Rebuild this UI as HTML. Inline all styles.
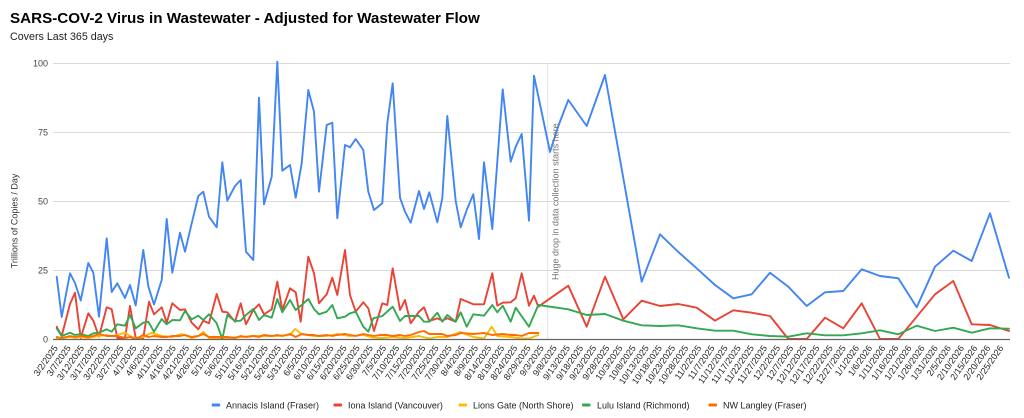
<!DOCTYPE html>
<html>
<head>
<meta charset="utf-8">
<style>
  html,body{margin:0;padding:0;background:#fff;}
  svg{display:block;font-family:"Liberation Sans",Arial,sans-serif;}
</style>
</head>
<body>
<svg width="1024" height="418" viewBox="0 0 1024 418" xmlns="http://www.w3.org/2000/svg">
  <rect width="1024" height="418" fill="#fff"/>
  <!-- Title -->
  <text x="10" y="23" font-size="15.2" font-weight="bold" fill="#000">SARS-COV-2 Virus in Wastewater - Adjusted for Wastewater Flow</text>
  <text x="10" y="40" font-size="10.7" fill="#222">Covers Last 365 days</text>

  <!-- gridlines -->
  <g stroke="#d9d9d9" stroke-width="1">
    <line x1="53" y1="63.5" x2="1010" y2="63.5"/>
    <line x1="53" y1="132.5" x2="1010" y2="132.5"/>
    <line x1="53" y1="201.5" x2="1010" y2="201.5"/>
    <line x1="53" y1="270.5" x2="1010" y2="270.5"/>
  </g>
  <!-- annotation line -->
  <line x1="547.7" y1="63" x2="547.7" y2="339" stroke="#e3e3e3" stroke-width="1"/>

  <!-- y tick labels -->
  <g font-size="9" fill="#444" text-anchor="end">
    <text x="48" y="66.5">100</text>
    <text x="48" y="135.5">75</text>
    <text x="48" y="204.5">50</text>
    <text x="48" y="273.5">25</text>
    <text x="48" y="342.5">0</text>
  </g>
  <!-- y axis title -->
  <text transform="translate(17.5,221) rotate(-90)" font-size="9" fill="#333" text-anchor="middle">Trillions of Copies / Day</text>

  <!-- series -->
  <g fill="none" stroke-width="1.9" stroke-linejoin="round" stroke-linecap="round">
    <polyline stroke="#4285f4" points="56.7,276.7 61.7,317 70,273.3 75,283 80.7,300.5 88.3,263 93.3,272.7 99,316.7 106.7,238.3 111.7,292 117.3,283.3 125,298 130,285 135.7,305.5 143.3,250 148.3,286.3 154,304.5 161.7,280 166.7,219 172.3,272.7 180,232.7 185,251.7 191.7,223.3 198.3,196 203.3,191.7 209,216.7 216.7,227.3 222.3,162.3 227.3,200.7 235,186 240.7,180 246,251.7 253.3,260 259,97.7 264,204.3 271.7,176.7 277.3,61.7 282.3,170.7 290,165 295.7,197.7 301.7,163.3 308.3,90 314,111.7 319,191.7 326.7,125 332.3,122.7 337.3,218.3 345,145 350,147.3 355.7,139 363.3,150 368.3,191.7 374,210 382.3,203.3 387.3,123.3 392.7,83.3 400,197.7 405,211.7 410.7,222.7 419,191 424,209 429.3,192.3 437.3,222.3 442.3,198.3 447.3,116 455.7,201 460.7,227.3 466.7,210 473.3,194.3 479,239 484,162.3 492.3,229 502.7,89.3 510.7,161.7 515.7,146.7 521.7,134 529,220.7 534,75.7 550,152 558.3,126 568.3,100 586.7,126 605,75 641.7,281.7 660,234.3 678.3,252 696.7,268.3 715,285 733.3,298.3 751.7,294.3 770,272.7 788.3,286.7 806.7,306 825,292.3 843.3,291 861.7,269.3 880,276 898.3,278.3 916.7,307.3 935,266.7 953.3,250.7 971.7,261 990,213.3 1009,277.7"/>
    <polyline stroke="#ea4335" points="56.7,326.7 61.7,336 70,304 75,292.7 80.7,338 88.3,313.3 93.3,320.7 99,336.7 106.7,307.3 111.7,309.3 117.3,338 125,338 130,306 135.7,338 143.3,338 149,301.7 154,314.3 161.7,307.3 166.7,322.7 172.3,303.3 180,310 185,309.3 191.7,322.7 198.3,329.3 203.3,320.7 209,323.3 216.7,294 222.3,311.7 227.3,312.3 235,321.7 240.7,303.3 246,324.3 253.3,310 259,304.3 264,314.3 271.7,309.3 277.3,281.7 282.3,310 290,288.3 295.7,292.3 300.7,321.7 308.3,256.7 314,273.3 319,303.3 326.7,294.3 332.3,277.7 337.3,295 345,250 350,295 355.7,311.7 363.3,302.3 368.3,308.3 374,331 382.3,303.3 387.3,305 392.7,268.3 400,310 405,300 410.7,323.3 419,311.7 424,307.3 429.3,321 437.3,318.3 442.3,320.7 447.3,318.3 455.7,321.7 460.7,299 473.3,304.3 484,304.3 492.3,273.3 497.3,305.7 502.7,302.7 510.7,302.3 515.7,298.3 521.7,273.3 529,305.7 534,295.7 538.3,306.7 568.3,285.7 586.7,326.7 605,276.7 623.3,319.3 641.7,300.7 660,306 678.3,304 696.7,307.7 715,320.7 733.3,310.3 751.7,312.7 770,316 788.3,339 806.7,339 825,317.7 843.3,328.3 861.7,303.3 880,339 898.3,339 916.7,316.7 935,294.3 953.3,281 971.7,324.3 990,325 1009,331"/>
    <polyline stroke="#fbbc04" points="56.7,338 61.7,338.5 70,337 75,338 80.7,337 88.3,338 93.3,337 99,336 106.7,335 111.7,336 117.3,335 125,332.7 130,336 135.7,338.5 143.3,337 151.7,332.7 161.7,336 172.3,337 181.7,334 191.7,338 198.3,336 203.3,331.7 209,338 216.7,338.5 227.3,338 240.7,337 253.3,336 264,336 277.3,336 290,335 295,329 301.7,334 314,336 326.7,336 337.3,334 350,336 363.3,335 373.3,337.7 382.3,338 392.7,337 405,338 419,336 429.3,338.5 437.3,337 447.3,337 460,332 473.3,337 484,338.5 491.7,326.7 497.3,336 510.7,337 521.7,338.5 529,338.5 538.3,335"/>
    <polyline stroke="#34a853" points="56.7,328.3 61.7,336 70,332.7 75,335 80.7,334 88.3,336 93.3,333.3 99,332.7 106.7,329.3 111.7,331.7 117.3,324.3 125,325.7 130,315 135.7,328.3 143.3,322.7 148.3,321.7 154,331.7 161.7,319 166.7,324.3 172.3,320 180,320.3 185,311 191.7,319.3 198.3,315.7 203.3,320 209,314.3 216.7,323.3 222.3,339 227.3,315 235,321 240.7,320.7 246,315 253.3,309 259,320 264,315 271.7,317.7 277.3,299 282.3,312.3 290,300 295.7,310 301.7,305 308.3,299 314,309 319,314.3 326.7,311.7 332.3,305 337.3,318.3 345,316.7 350,313.3 355.7,311.7 363.3,326.7 368.3,331.7 373.3,318.3 382.3,316 392.7,306.7 400,321 405,316 410.7,316 419,316 424,321.7 429.3,321.7 437.3,312.7 442.3,321.7 447.3,315 455.7,321.7 460.7,312.3 466.7,326.7 473.3,314.3 484,315.7 492.3,305 497.3,312.3 502.7,305.7 510.7,321.7 515.7,307.7 529,326.7 538.3,305 568.3,309.3 586.7,315 605,314 623.3,320.7 641.7,325.3 660,326 678.3,325.3 696.7,328.3 715,330.7 733.3,330.7 751.7,334.3 770,336 788.3,336.7 806.7,333.3 825,335.3 843.3,335.3 861.7,333.3 880,330.3 898.3,334.3 916.7,325.7 935,331 953.3,327.7 971.7,332.7 990,328.3 1009,328.7"/>
    <polyline stroke="#ff6d01" points="56.7,337 61.7,338 70,336 75,337 80.7,336 88.3,337 93.3,336 99,334 106.7,336 111.7,336 117.3,336 125,338 130,337 135.7,339 143.3,335 148.3,337 154,336 161.7,337 166.7,337 172.3,336 180,336 185,335 191.7,337 198.3,336 203.3,334 209,337 216.7,337 220,337 227.3,337 235,338 240.7,336 246,337 253.3,336 259,337 264,335 271.7,336 277.3,335 282.3,336 290,334 295.7,337 301.7,334 308.3,335 314,335 319,336 326.7,335 332.3,336 337.3,335 345,334 350,335 355.7,336 363.3,334 368.3,335 374,336 380,335 387.3,335 392.7,336 400,335 405,336 410.7,335 419,332 424,331 429.3,334 437.3,334 442.3,334 447.3,336 455.7,335 460.7,333 473.3,334 484,333 492.3,335 502.7,334 510.7,335 515.7,335 521.7,336 529,333 534,333 538.3,333"/>
  </g>

  <!-- baseline -->
  <line x1="53" y1="339.5" x2="1010" y2="339.5" stroke="#666" stroke-width="1.2"/>

  <!-- annotation text -->
  <text transform="translate(558.5,280) rotate(-90)" font-size="9" fill="#757575">Huge drop in data collection starts here</text>

  <!-- x labels -->
  <g font-size="9" fill="#222" text-anchor="end">
    <text transform="translate(58.2,348) rotate(-55)">3/2/2025</text>
    <text transform="translate(71.3,348) rotate(-55)">3/7/2025</text>
    <text transform="translate(84.5,348) rotate(-55)">3/12/2025</text>
    <text transform="translate(97.6,348) rotate(-55)">3/17/2025</text>
    <text transform="translate(110.7,348) rotate(-55)">3/22/2025</text>
    <text transform="translate(123.9,348) rotate(-55)">3/27/2025</text>
    <text transform="translate(137.0,348) rotate(-55)">4/1/2025</text>
    <text transform="translate(150.1,348) rotate(-55)">4/6/2025</text>
    <text transform="translate(163.3,348) rotate(-55)">4/11/2025</text>
    <text transform="translate(176.4,348) rotate(-55)">4/16/2025</text>
    <text transform="translate(189.6,348) rotate(-55)">4/21/2025</text>
    <text transform="translate(202.7,348) rotate(-55)">4/26/2025</text>
    <text transform="translate(215.8,348) rotate(-55)">5/1/2025</text>
    <text transform="translate(229.0,348) rotate(-55)">5/6/2025</text>
    <text transform="translate(242.1,348) rotate(-55)">5/11/2025</text>
    <text transform="translate(255.2,348) rotate(-55)">5/16/2025</text>
    <text transform="translate(268.4,348) rotate(-55)">5/21/2025</text>
    <text transform="translate(281.5,348) rotate(-55)">5/26/2025</text>
    <text transform="translate(294.6,348) rotate(-55)">5/31/2025</text>
    <text transform="translate(307.8,348) rotate(-55)">6/5/2025</text>
    <text transform="translate(320.9,348) rotate(-55)">6/10/2025</text>
    <text transform="translate(334.0,348) rotate(-55)">6/15/2025</text>
    <text transform="translate(347.2,348) rotate(-55)">6/20/2025</text>
    <text transform="translate(360.3,348) rotate(-55)">6/25/2025</text>
    <text transform="translate(373.4,348) rotate(-55)">6/30/2025</text>
    <text transform="translate(386.6,348) rotate(-55)">7/5/2025</text>
    <text transform="translate(399.7,348) rotate(-55)">7/10/2025</text>
    <text transform="translate(412.9,348) rotate(-55)">7/15/2025</text>
    <text transform="translate(426.0,348) rotate(-55)">7/20/2025</text>
    <text transform="translate(439.1,348) rotate(-55)">7/25/2025</text>
    <text transform="translate(452.3,348) rotate(-55)">7/30/2025</text>
    <text transform="translate(465.4,348) rotate(-55)">8/4/2025</text>
    <text transform="translate(478.5,348) rotate(-55)">8/9/2025</text>
    <text transform="translate(491.7,348) rotate(-55)">8/14/2025</text>
    <text transform="translate(504.8,348) rotate(-55)">8/19/2025</text>
    <text transform="translate(517.9,348) rotate(-55)">8/24/2025</text>
    <text transform="translate(531.1,348) rotate(-55)">8/29/2025</text>
    <text transform="translate(544.2,348) rotate(-55)">9/3/2025</text>
    <text transform="translate(557.3,348) rotate(-55)">9/8/2025</text>
    <text transform="translate(570.5,348) rotate(-55)">9/13/2025</text>
    <text transform="translate(583.6,348) rotate(-55)">9/18/2025</text>
    <text transform="translate(596.7,348) rotate(-55)">9/23/2025</text>
    <text transform="translate(609.9,348) rotate(-55)">9/28/2025</text>
    <text transform="translate(623.0,348) rotate(-55)">10/3/2025</text>
    <text transform="translate(636.2,348) rotate(-55)">10/8/2025</text>
    <text transform="translate(649.3,348) rotate(-55)">10/13/2025</text>
    <text transform="translate(662.4,348) rotate(-55)">10/18/2025</text>
    <text transform="translate(675.6,348) rotate(-55)">10/23/2025</text>
    <text transform="translate(688.7,348) rotate(-55)">10/28/2025</text>
    <text transform="translate(701.8,348) rotate(-55)">11/2/2025</text>
    <text transform="translate(715.0,348) rotate(-55)">11/7/2025</text>
    <text transform="translate(728.1,348) rotate(-55)">11/12/2025</text>
    <text transform="translate(741.2,348) rotate(-55)">11/17/2025</text>
    <text transform="translate(754.4,348) rotate(-55)">11/22/2025</text>
    <text transform="translate(767.5,348) rotate(-55)">11/27/2025</text>
    <text transform="translate(780.6,348) rotate(-55)">12/2/2025</text>
    <text transform="translate(793.8,348) rotate(-55)">12/7/2025</text>
    <text transform="translate(806.9,348) rotate(-55)">12/12/2025</text>
    <text transform="translate(820.0,348) rotate(-55)">12/17/2025</text>
    <text transform="translate(833.2,348) rotate(-55)">12/22/2025</text>
    <text transform="translate(846.3,348) rotate(-55)">12/27/2025</text>
    <text transform="translate(859.5,348) rotate(-55)">1/1/2026</text>
    <text transform="translate(872.6,348) rotate(-55)">1/6/2026</text>
    <text transform="translate(885.7,348) rotate(-55)">1/11/2026</text>
    <text transform="translate(898.9,348) rotate(-55)">1/16/2026</text>
    <text transform="translate(912.0,348) rotate(-55)">1/21/2026</text>
    <text transform="translate(925.1,348) rotate(-55)">1/26/2026</text>
    <text transform="translate(938.3,348) rotate(-55)">1/31/2026</text>
    <text transform="translate(951.4,348) rotate(-55)">2/5/2026</text>
    <text transform="translate(964.5,348) rotate(-55)">2/10/2026</text>
    <text transform="translate(977.7,348) rotate(-55)">2/15/2026</text>
    <text transform="translate(990.8,348) rotate(-55)">2/20/2026</text>
    <text transform="translate(1003.9,348) rotate(-55)">2/25/2026</text>
  </g>

  <!-- legend -->
  <g font-size="9" fill="#222">
    <rect x="211.7" y="403.5" width="8.5" height="3" rx="1" fill="#4285f4"/>
    <text x="226" y="408.5">Annacis Island (Fraser)</text>
    <rect x="333.5" y="403.5" width="8.5" height="3" rx="1" fill="#ea4335"/>
    <text x="348" y="408.5">Iona Island (Vancouver)</text>
    <rect x="458.5" y="403.5" width="8.5" height="3" rx="1" fill="#fbbc04"/>
    <text x="473" y="408.5">Lions Gate (North Shore)</text>
    <rect x="582" y="403.5" width="8.5" height="3" rx="1" fill="#34a853"/>
    <text x="597" y="408.5">Lulu Island (Richmond)</text>
    <rect x="708.5" y="403.5" width="8.5" height="3" rx="1" fill="#ff6d01"/>
    <text x="723" y="408.5">NW Langley (Fraser)</text>
  </g>
</svg>
</body>
</html>
